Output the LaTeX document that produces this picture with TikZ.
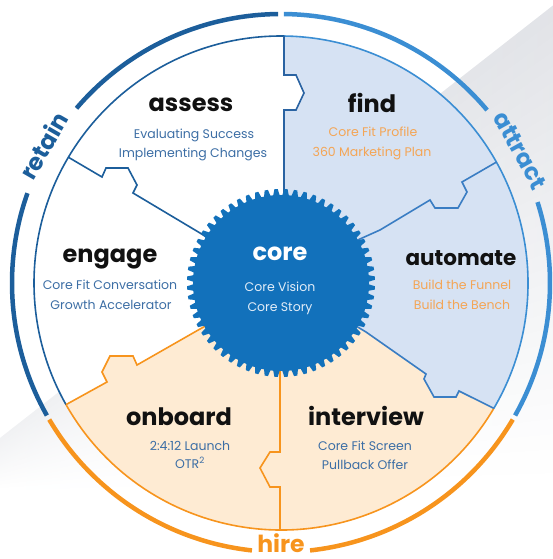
\documentclass[tikz,border=0pt]{standalone}
\usepackage{fontspec}
\setmainfont{Poppins}
\usetikzlibrary{calc}
\definecolor{retainblue}{HTML}{1C5E9B}
\definecolor{attractblue}{HTML}{3B8ED3}
\definecolor{hireorange}{HTML}{F7941D}
\definecolor{lightblue}{HTML}{D6E2F3}
\definecolor{lightorange}{HTML}{FEEBD3}
\definecolor{gearblue}{HTML}{1271BB}
\definecolor{subblue}{HTML}{3C6EA5}
\definecolor{suborange}{HTML}{F4A555}
\definecolor{divblue}{HTML}{3A7DC3}
\definecolor{divdark}{HTML}{2A63A2}
\definecolor{titleblack}{HTML}{111111}
\definecolor{coresub}{HTML}{E2EDF8}
\definecolor{bandc}{HTML}{DCDEE3}
\tikzset{
  ring/.style={line width=4.5pt},
  rim/.style={line width=1.6pt},
  divider/.style={line width=1.6pt, line join=miter},
  title/.style={font=\fontsize{24}{28}\selectfont\bfseries, text=titleblack, anchor=base, inner sep=0pt},
  sub/.style={font=\fontsize{12.5}{15}\selectfont, anchor=base, inner sep=0pt},
  ringlabel/.style={font=\fontsize{23.5}{26}\selectfont\bfseries, anchor=mid, inner sep=0pt},
}
\begin{document}
\begin{tikzpicture}[x=1pt,y=1pt]
\useasboundingbox (-281,-276) rectangle (272,283);
% background band (fading wedge)
\foreach \k in {0,...,29}{
  \pgfmathsetmacro{\pl}{40*(1-\k/30)}
  \pgfmathsetmacro{\pr}{85*(1-\k/30)}
  \pgfmathsetmacro{\ya}{-162-1.5*\k}
  \pgfmathsetmacro{\yb}{-162-1.5*\k-2.5}
  \pgfmathsetmacro{\yc}{276-15.5*\k}
  \pgfmathsetmacro{\yd}{276-15.5*\k-16.5}
  \shade[left color=bandc!\pl!white, right color=bandc!\pr!white] (-290,\ya) -- (280,{\yc+7.8}) -- (280,\yd) -- (-290,\yb) -- cycle;
}
% inner disk
\fill[white] (0,0) circle[radius=247pt];
% blue region
\fill[lightblue] (3,247) -- (3,208) -- (15,208) -- (23,190) -- (15,173) -- (3,173) -- (3,80) -- (0,0) -- (85,-49) -- (145,-91) -- (143,-96) -- (153,-114) -- (175,-114) -- (178,-108) -- (-30.5:247) arc[start angle=-30.5, end angle=89.3, radius=247pt] -- cycle;
% orange region
\fill[lightorange] (209.5:247) -- (-174,-99) -- (-179,-89) -- (-171,-73) -- (-148,-73) -- (-144,-82) -- (-81,-46) -- (0,0) -- (85,-49) -- (145,-91) -- (143,-96) -- (153,-114) -- (175,-114) -- (178,-108) -- (-30.5:247) arc[start angle=-30.5, end angle=-150.5, radius=247pt] -- cycle;
% rim
\draw[rim, retainblue] (89.3:247) arc[start angle=89.3, end angle=209.5, radius=247pt];
\draw[rim, hireorange] (209.5:247) arc[start angle=209.5, end angle=329.5, radius=247pt];
\draw[rim, attractblue] (-30.5:247) arc[start angle=-30.5, end angle=89.3, radius=247pt];
% dividers
\coordinate (d1) at (3,247);
\coordinate (d2) at (29.3:247);
\coordinate (d3) at (149.4:247);
\coordinate (d4) at (209.5:247);
\coordinate (d5) at (-1,-247);
\coordinate (d6) at (-30.5:247);
\draw[divider, divdark] (d1) -- (3,208) -- (15,208) -- (23,190) -- (15,173) -- (3,173) -- (3,80);
\draw[divider, divblue] (d2) -- (181,101) -- (186,91) -- (177,75) -- (154,75) -- (149,83) -- (99,53) -- (70,40);
\draw[divider, retainblue] (d3) -- (-179,106) -- (-175,115) -- (-153,115) -- (-144,98) -- (-148,90) -- (-81,50) -- (-70,43);
\draw[divider, hireorange] (d4) -- (-174,-99) -- (-179,-89) -- (-171,-73) -- (-148,-73) -- (-144,-82) -- (-81,-46) -- (-70,-40);
\draw[divider, hireorange] (d5) -- (-1,-204) -- (-11,-204) -- (-21,-185) -- (-11,-169) -- (-1,-169) -- (-1,-80);
\draw[divider, divblue] (d6) -- (178,-108) -- (175,-114) -- (153,-114) -- (143,-96) -- (145,-91) -- (85,-49) -- (70,-40);
% gear
\fill[gearblue] (0:88) \foreach \i in {0,...,59}{ -- ({\i*6+0.9}:88) -- ({\i*6+2}:94) -- ({\i*6+4}:94) -- ({\i*6+5.1}:88) -- ({\i*6+6}:88)} -- cycle;
% texts
\node[title] (tassess) at (-90,171) {assess};
\node[sub, text=subblue] (sassess1) at (-87,144) {Evaluating Success};
\node[sub, text=subblue] (sassess2) at (-88,125) {Implementing Changes};
\node[title] (tfind) at (91,170) {find};
\node[sub, text=suborange] (sfind1) at (92,146) {Core Fit Profile};
\node[sub, text=suborange] (sfind2) at (91,126) {360 Marketing Plan};
\node[title, font=\fontsize{21.5}{26}\selectfont\bfseries] (tautomate) at (180,17) {automate};
\node[sub, text=suborange] (sauto1) at (181,-7) {Build the Funnel};
\node[sub, text=suborange] (sauto2) at (181,-27) {Build the Bench};
\node[title] (tengage) at (-171,20) {engage};
\node[sub, text=subblue] (sengage1) at (-171,-7) {Core Fit Conversation};
\node[sub, text=subblue] (sengage2) at (-170,-27) {Growth Accelerator};
\node[title, text=white] (tcore) at (-1,22) {core};
\node[sub, text=coresub] (score1) at (-1,-9) {Core Vision};
\node[sub, text=coresub] (score2) at (-1,-29) {Core Story};
\node[title] (tonboard) at (-102,-142) {onboard};
\node[sub, text=subblue] (sonb1) at (-91,-167) {2:4:12 Launch};
\node[sub, text=subblue] (sonb2) at (-91,-185) {OTR\textsuperscript{2}};
\node[title] (tinterview) at (85,-142) {interview};
\node[sub, text=subblue] (sint1) at (84,-167) {Core Fit Screen};
\node[sub, text=subblue] (sint2) at (84,-186) {Pullback Offer};
% outer ring
\draw[ring, retainblue] (90.6:269) arc[start angle=90.6, end angle=139.5, radius=269pt];
\draw[ring, retainblue] (160.5:269) arc[start angle=160.5, end angle=209.5, radius=269pt];
\draw[ring, attractblue] (-29.5:269) arc[start angle=-29.5, end angle=17.5, radius=269pt];
\draw[ring, attractblue] (40:269) arc[start angle=40, end angle=89.4, radius=269pt];
\draw[ring, hireorange] (210.5:269) arc[start angle=210.5, end angle=263.8, radius=269pt];
\draw[ring, hireorange] (276.2:269) arc[start angle=276.2, end angle=329.5, radius=269pt];
\node[ringlabel, text=retainblue, rotate=60] (lretain) at (150:268) {retain};
\node[ringlabel, text=attractblue, rotate=-61] (lattract) at (29:268) {attract};
\node[ringlabel, text=hireorange] (lhire) at (270:267) {hire};
\end{tikzpicture}
\end{document}
